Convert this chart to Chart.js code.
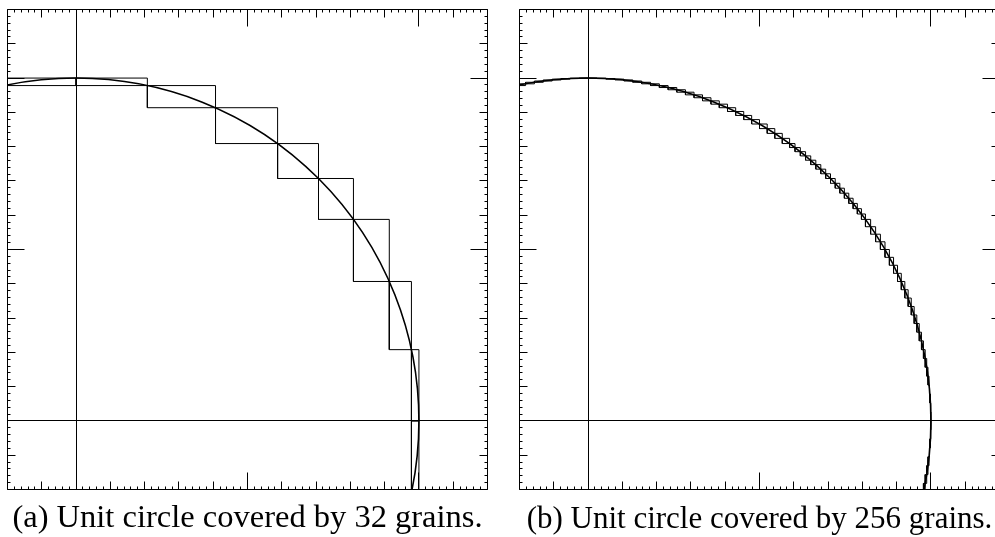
<!DOCTYPE html>
<html>
<head>
<meta charset="utf-8">
<script src="https://cdn.jsdelivr.net/npm/chart.js@4.4.1/dist/chart.umd.min.js"></script>
<style>
  html, body { margin: 0; padding: 0; background: #fff; overflow: hidden; }
  body { width: 995px; height: 537px; position: relative; }
  .panel { position: absolute; top: 0; }
  #panelA { left: 0; }
  #panelB { left: 512px; }
</style>
</head>
<body>
<div class="panel" id="panelA"><canvas id="chartA" width="497" height="537"></canvas></div>
<div class="panel" id="panelB"><canvas id="chartB" width="495" height="537"></canvas></div>
<script>
// same range on both axes
var axisMin = -0.2;
var axisMax = 1.2;
var tickStep = 0.02;

// the unit circle
var circleCenter = { x: 0, y: 0 };
var circleRadius = 1;

// grain boundaries along the circle (degrees), only the part inside the frame
var grainAnglesA = [-12, 0, 12, 24, 36, 45, 54, 66, 78, 90, 102];
var grainAnglesB = [
  -12, -10.5, -9, -7.5, -6, -4.5, -3, -1.5, 0, 1.5, 3, 4.5, 6, 7.5, 9, 10.5,
  12, 13.5, 15, 16.5, 18, 19.5, 21, 22.5, 24, 25.5, 27, 28.5, 30, 31.5, 33, 34.5,
  36, 37.125, 38.25, 39.375, 40.5, 41.625, 42.75, 43.875, 45, 46.125, 47.25,
  48.375, 49.5, 50.625, 51.75, 52.875, 54, 55.5, 57, 58.5, 60, 61.5, 63, 64.5,
  66, 67.5, 69, 70.5, 72, 73.5, 75, 76.5, 78, 79.5, 81, 82.5, 84, 85.5, 87, 88.5,
  90, 91.5, 93, 94.5, 96, 97.5, 99, 100.5, 102
];

var captionA = '(a) Unit circle covered by 32 grains.';
var captionB = '(b) Unit circle covered by 256 grains.';

// one closed rectangle per grain: bounding box of the arc between two boundaries
function grainDatasets(angles) {
  var sets = [];
  for (var i = 0; i < angles.length - 1; i++) {
    var a = angles[i] * Math.PI / 180, b = angles[i + 1] * Math.PI / 180;
    var xa = circleRadius * Math.cos(a), ya = circleRadius * Math.sin(a);
    var xb = circleRadius * Math.cos(b), yb = circleRadius * Math.sin(b);
    var x0 = Math.min(xa, xb), x1 = Math.max(xa, xb);
    var y0 = Math.min(ya, yb), y1 = Math.max(ya, yb);
    sets.push({
      data: [{x: x0, y: y0}, {x: x1, y: y0}, {x: x1, y: y1}, {x: x0, y: y1}, {x: x0, y: y0}],
      showLine: true,
      borderColor: '#000',
      borderWidth: 1,
      pointRadius: 0,
      tension: 0,
      clip: 0
    });
  }
  return sets;
}

// the circle itself, a single point whose radius is one unit on the x scale
function circleDataset() {
  return {
    data: [circleCenter],
    pointStyle: 'circle',
    pointRadius: function(ctx) {
      var s = ctx.chart.scales.x;
      return Math.abs(s.getPixelForValue(circleRadius) - s.getPixelForValue(0));
    },
    pointBorderColor: '#000',
    pointBackgroundColor: 'rgba(0,0,0,0)',
    pointBorderWidth: 1.6,
    showLine: false,
    clip: 0
  };
}

// tick every 0.02 over the full range (the generator rounds 0.02 up to 0.04)
function setTicks(scale) {
  var k0 = Math.round(axisMin / tickStep), k1 = Math.round(axisMax / tickStep);
  var ticks = [];
  for (var k = k0; k <= k1; k++) ticks.push({ value: Math.round(k * tickStep * 100) / 100 });
  scale.ticks = ticks;
}

function tickLength(v) {
  var k = Math.round(v * 50);
  if (k % 25 === 0) return 17;   // every 0.5
  if (k % 5 === 0) return 8;     // every 0.1
  return 3;
}

function crisp(p) { return Math.round(p - 0.5) + 0.5; }

// frame, axis lines through the origin and inward ticks on all four sides
var framePlugin = {
  id: 'frame',
  beforeDatasetsDraw: function(chart) {
    var ctx = chart.ctx, a = chart.chartArea;
    var x0 = crisp(chart.scales.x.getPixelForValue(0));
    var y0 = crisp(chart.scales.y.getPixelForValue(0));
    ctx.save();
    ctx.strokeStyle = '#000';
    ctx.lineWidth = 1;
    ctx.beginPath();
    ctx.moveTo(a.left, y0); ctx.lineTo(a.right, y0);
    ctx.moveTo(x0, a.top); ctx.lineTo(x0, a.bottom);
    ctx.stroke();
    ctx.restore();
  },
  afterDatasetsDraw: function(chart) {
    var ctx = chart.ctx, a = chart.chartArea;
    var xs = chart.scales.x, ys = chart.scales.y;
    ctx.save();
    ctx.strokeStyle = '#000';
    ctx.lineWidth = 1;
    ctx.beginPath();
    ctx.rect(a.left, a.top, a.right - a.left, a.bottom - a.top);
    xs.ticks.forEach(function(t) {
      var p = crisp(xs.getPixelForValue(t.value)), len = tickLength(t.value);
      ctx.moveTo(p, a.top); ctx.lineTo(p, a.top + len);
      ctx.moveTo(p, a.bottom); ctx.lineTo(p, a.bottom - len);
    });
    ys.ticks.forEach(function(t) {
      var p = crisp(ys.getPixelForValue(t.value)), len = tickLength(t.value);
      ctx.moveTo(a.left, p); ctx.lineTo(a.left + len, p);
      ctx.moveTo(a.right, p); ctx.lineTo(a.right - len, p);
    });
    ctx.stroke();
    ctx.restore();
  }
};

function makePanel(canvasId, angles, caption, padRight, fontSize) {
  var ctx = document.getElementById(canvasId).getContext('2d');
  var axis = { type: 'linear', display: false, min: axisMin, max: axisMax,
               ticks: { stepSize: tickStep, autoSkip: false, display: false },
               afterBuildTicks: setTicks };
  return new Chart(ctx, {
    type: 'scatter',
    data: { datasets: grainDatasets(angles).concat([circleDataset()]) },
    options: {
      responsive: false,
      animation: false,
      events: [],
      layout: { padding: { left: 7.5, top: 9.5, right: padRight, bottom: 0 } },
      scales: { x: axis, y: Object.assign({}, axis) },
      plugins: {
        legend: { display: false },
        tooltip: { enabled: false },
        title: {
          display: true,
          text: caption,
          position: 'bottom',
          color: '#000',
          font: { family: 'Liberation Serif', size: fontSize, weight: 'normal', lineHeight: 1.0 },
          padding: { top: 45.5 - fontSize, bottom: 2 }
        }
      }
    },
    plugins: [framePlugin]
  });
}

var chartA = makePanel('chartA', grainAnglesA, captionA, 9.5, 32.5);
var chartB = makePanel('chartB', grainAnglesB, captionB, 7.5, 31);
</script>
</body>
</html>
